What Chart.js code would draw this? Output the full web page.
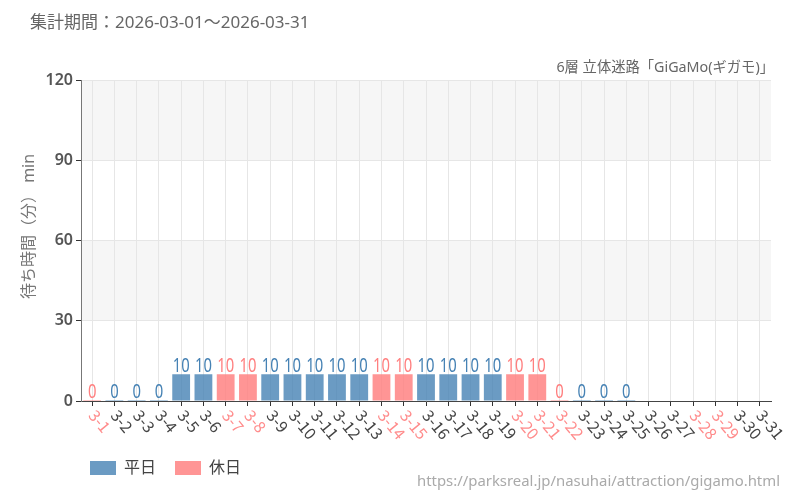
<!DOCTYPE html>
<html>
<head>
<meta charset="utf-8">
<style>
html, body { margin: 0; padding: 0; background: #fff; }
#wrap { width: 800px; height: 500px; }
</style>
<script src="https://cdn.jsdelivr.net/npm/chart.js@4"></script>
</head>
<body>
<div id="wrap"><canvas id="chart" width="800" height="500"></canvas></div>
<script>
const dayLabels = ['3-1', '3-2', '3-3', '3-4', '3-5', '3-6', '3-7', '3-8', '3-9', '3-10', '3-11', '3-12', '3-13', '3-14', '3-15', '3-16', '3-17', '3-18', '3-19', '3-20', '3-21', '3-22', '3-23', '3-24', '3-25', '3-26', '3-27', '3-28', '3-29', '3-30', '3-31'];
const weekdayValues = [null, 0, 0, 0, 10, 10, null, null, 10, 10, 10, 10, 10, null, null, 10, 10, 10, 10, null, null, null, 0, 0, 0, null, null, null, null, null, null];
const holidayValues = [0, null, null, null, null, null, 10, 10, null, null, null, null, null, 10, 10, null, null, null, null, 10, 10, 0, null, null, null, null, null, null, null, null, null];
const holidayLabels = ['3-1', '3-7', '3-8', '3-14', '3-15', '3-20', '3-21', '3-22', '3-28', '3-29'];
const bandRanges = [[90, 120], [30, 60]];
const subtitleText = '6層 立体迷路「GiGaMo(ギガモ)」';

const fontFamily = '"Noto Sans", "Noto Sans CJK JP", sans-serif';
const weekdayColor = 'rgba(70, 130, 180, 0.8)';
const holidayColor = 'rgba(255, 127, 127, 0.83)';

// grey bands behind the grid
const bandsPlugin = {
    id: 'bands',
    beforeDraw(chart) {
        const { ctx, chartArea, scales } = chart;
        ctx.save();
        ctx.fillStyle = '#f6f6f6';
        bandRanges.forEach(([lo, hi]) => {
            const top = scales.y.getPixelForValue(hi);
            ctx.fillRect(chartArea.left, top, chartArea.width, scales.y.getPixelForValue(lo) - top);
        });
        ctx.restore();
    }
};

// squeezed value labels above the bars
const valueLabelsPlugin = {
    id: 'valueLabels',
    afterDatasetsDraw(chart) {
        const { ctx } = chart;
        const colors = ['#4682b4', '#ff7f7f'];
        chart.data.datasets.forEach((ds, d) => {
            chart.getDatasetMeta(d).data.forEach((bar, i) => {
                if (ds.data[i] === null) return;
                ctx.save();
                ctx.font = '19px ' + fontFamily;
                ctx.fillStyle = colors[d];
                ctx.textAlign = 'center';
                ctx.textBaseline = 'alphabetic';
                ctx.translate(bar.x, bar.y - 2);
                ctx.scale(0.78, 1);
                ctx.fillText(String(ds.data[i]), 0, 0);
                ctx.restore();
            });
        });
    }
};

const pageTextPlugin = {
    id: 'pageText',
    afterLayout(chart) {
        // legend sits under the plot, not at the page margin
        chart.legend.left = 71;
        chart.legend.top = 441;
        chart.legend.adjustHitBoxes();
        // subtitle runs a little past the plot edge
        const sub = chart.boxes.find(b => b.options && b.options.text === subtitleText);
        sub.left += 3;
        sub.right += 3;
    },
    afterDraw(chart) {
        const { ctx } = chart;
        ctx.save();
        ctx.font = '14.9px ' + fontFamily;
        ctx.fillStyle = '#aaaaaa';
        ctx.textAlign = 'right';
        ctx.textBaseline = 'middle';
        ctx.fillText('https://parksreal.jp/nasuhai/attraction/gigamo.html', 780, 482);
        // axis title sits above the middle of the axis
        ctx.font = '16px ' + fontFamily;
        ctx.fillStyle = '#777777';
        ctx.textAlign = 'left';
        ctx.translate(29, 299);
        ctx.rotate(-Math.PI / 2);
        ctx.fillText('待ち時間（分） min', 0, 0);
        ctx.restore();
    }
};

new Chart(document.getElementById('chart'), {
    type: 'bar',
    data: {
        labels: dayLabels,
        datasets: [
            { label: '平日', data: weekdayValues, backgroundColor: weekdayColor, grouped: false, barPercentage: 0.8, categoryPercentage: 1, minBarLength: 1 },
            { label: '休日', data: holidayValues, backgroundColor: holidayColor, grouped: false, barPercentage: 0.8, categoryPercentage: 1, minBarLength: 1 }
        ]
    },
    options: {
        responsive: false,
        animation: false,
        layout: { padding: { left: 30, right: 29, top: 0, bottom: 0 } },
        plugins: {
            tooltip: { enabled: false },
            title: {
                display: true,
                text: '集計期間：2026-03-01～2026-03-31',
                align: 'start',
                color: '#666666',
                font: { family: fontFamily, size: 17, weight: 'normal' },
                padding: { top: 13, bottom: 0 }
            },
            subtitle: {
                display: true,
                text: subtitleText,
                align: 'end',
                color: '#666666',
                font: { family: fontFamily, size: 14.3, weight: 'normal' },
                padding: { top: 26, bottom: 4 }
            },
            legend: {
                position: 'bottom',
                align: 'start',
                labels: {
                    boxWidth: 26,
                    boxHeight: 14,
                    padding: 19,
                    color: '#444444',
                    font: { family: fontFamily, size: 16 }
                }
            }
        },
        scales: {
            x: {
                offset: true,
                grid: { offset: false, color: '#e6e6e6', tickColor: '#333333', tickLength: 5 },
                border: { color: '#444444' },
                ticks: {
                    autoSkip: false,
                    minRotation: -50,
                    maxRotation: -50,
                    padding: 0,
                    font: { family: '"Noto Sans CJK JP", sans-serif', size: 16 },
                    color: ctx => holidayLabels.includes(dayLabels[ctx.index]) ? '#ff8c8c' : '#444444'
                },
                afterFit(scale) {
                    scale.height = 54;
                    // text starts at the tick and runs down to the right
                    scale._getXAxisLabelAlignment = () => 'left';
                }
            },
            y: {
                min: 0,
                max: 120,
                grid: { color: '#e6e6e6', tickColor: '#333333', tickLength: 5 },
                border: { color: '#777777' },
                ticks: {
                    stepSize: 30,
                    padding: 3,
                    color: '#555555',
                    font: { family: fontFamily, size: 16, weight: '600' }
                },
                afterFit(scale) {
                    scale.width = 51;
                }
            }
        }
    },
    plugins: [bandsPlugin, valueLabelsPlugin, pageTextPlugin]
});
</script>
</body>
</html>
